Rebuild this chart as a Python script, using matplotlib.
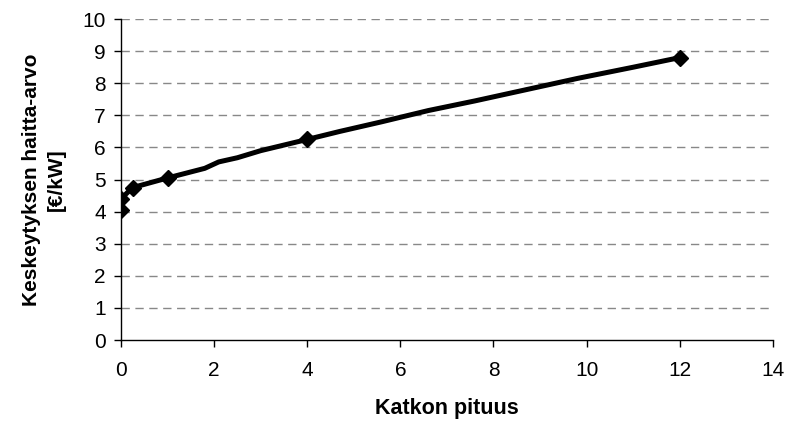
import matplotlib
matplotlib.use("Agg")
import matplotlib.pyplot as plt

# marker points (the measured values)
x_pts = [0, 0, 0.25, 1, 4, 12]
y_pts = [4.05, 4.4, 4.75, 5.05, 6.25, 8.8]

# points
x_line = [0, 0, 0.25, 1, 1.8, 2.1, 2.5, 3, 4, 4.7, 5.6, 6.6, 7.6, 8.7, 9.8, 11, 12]
y_line = [4.05, 4.4, 4.75, 5.05, 5.35, 5.55, 5.68, 5.9, 6.25, 6.5, 6.8, 7.15, 7.45, 7.8, 8.15, 8.5, 8.8]

x_ticks = [0, 2, 4, 6, 8, 10, 12, 14]
y_ticks = [0, 1, 2, 3, 4, 5, 6, 7, 8, 9, 10]

plt.rcParams['font.family'] = ['Liberation Sans', 'DejaVu Sans']

fig = plt.figure(figsize=(7.87, 4.24), dpi=100)
ax = fig.add_axes([0.1537, 0.198, 0.8283, 0.757])

for y in y_ticks[1:]:
    ax.axhline(y, color='#888888', lw=1, ls=(0, (6, 4)), zorder=1)

ax.plot(x_line, y_line, color='black', lw=3.6, solid_joinstyle='round', zorder=3)
ax.plot(x_pts, y_pts, ls='none', marker='D', ms=8.5, color='black', zorder=4)

ax.set_xlim(0, 14)
ax.set_ylim(0, 10)
ax.set_xticks(x_ticks)
ax.set_yticks(y_ticks)
ax.tick_params(labelsize=15, direction='out', length=5, width=1, pad=6)
ax.tick_params(axis='x', pad=10)

for s in ['top', 'right']:
    ax.spines[s].set_visible(False)
for s in ['left', 'bottom']:
    ax.spines[s].set_linewidth(1)

ax.set_xlabel('Katkon pituus', fontsize=15.5, fontweight='bold', labelpad=13)
ax.set_ylabel('Keskeytyksen haitta-arvo\n[€/kW]', fontsize=15, fontweight='bold',
              labelpad=12, linespacing=1.35)

fig.savefig('out.png', dpi=100)
plt.close()
